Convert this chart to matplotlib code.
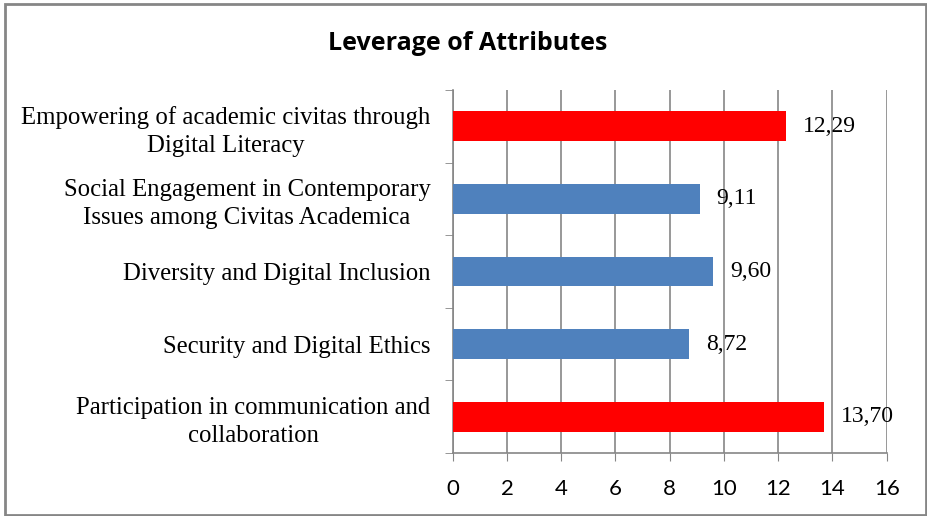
import matplotlib
matplotlib.use("Agg")
import matplotlib.pyplot as plt
from matplotlib.patches import Rectangle

categories = [
    "Participation in communication and\ncollaboration",
    "Security and Digital Ethics",
    "Diversity and Digital Inclusion",
    "Social Engagement in Contemporary\nIssues among Civitas Academica",
    "Empowering of academic civitas through\nDigital Literacy",
]
values = [13.70, 8.72, 9.60, 9.11, 12.29]
labels = ["13,70", "8,72", "9,60", "9,11", "12,29"]
colors = ["#FF0000", "#4F81BD", "#4F81BD", "#4F81BD", "#FF0000"]
xticks = [0, 2, 4, 6, 8, 10, 12, 14, 16]
title = "Leverage of Attributes"

W, H = 927, 516
fig = plt.figure(figsize=(W / 100, H / 100), dpi=100)
ax = fig.add_axes([452.7 / W, 1 - 453 / H, (886.7 - 452.7) / W, (453 - 90) / H])

y = list(range(len(categories)))
ax.barh(y, values, height=0.41, color=colors, zorder=3)
ax.set_xlim(0, 16)
ax.set_ylim(-0.5, len(categories) - 0.5)
ax.set_xticks(xticks)
ax.set_xticklabels([str(t) for t in xticks], fontfamily="Lato", fontsize=16)
ax.set_yticks(y)
ax.set_yticklabels(categories, fontfamily="Liberation Serif", fontsize=17.8,
                   multialignment="center", linespacing=1.35)
ax.set_yticks([i - 0.5 for i in range(len(categories) + 1)], minor=True)
ax.tick_params(axis="y", which="major", length=0, pad=16)
ax.tick_params(axis="y", which="minor", length=6, color="#868686", direction="out")
ax.tick_params(axis="x", which="major", length=6, color="#868686", direction="out", pad=13)
ax.grid(axis="x", color="#868686", linewidth=1.2, zorder=0)
for s in ["top", "right"]:
    ax.spines[s].set_visible(False)
for s in ["left", "bottom"]:
    ax.spines[s].set_color("#868686")
    ax.spines[s].set_linewidth(1.2)

for yi, v, lab in zip(y, values, labels):
    ax.annotate(lab, (v, yi), xytext=(12, 0), textcoords="offset points",
                va="center", ha="left", fontfamily="Liberation Serif", fontsize=17, zorder=4)

fig.text(468 / W, 1 - 43 / H, title, ha="center", va="center",
         fontfamily="Open Sans", fontweight="bold", fontsize=18)

fig.patches.append(Rectangle((5 / W, 1 / H), (926 - 5) / W, (512 - 1) / H,
                             transform=fig.transFigure, fill=False,
                             edgecolor="#868686", linewidth=2))

fig.savefig("out.png", dpi=100)
